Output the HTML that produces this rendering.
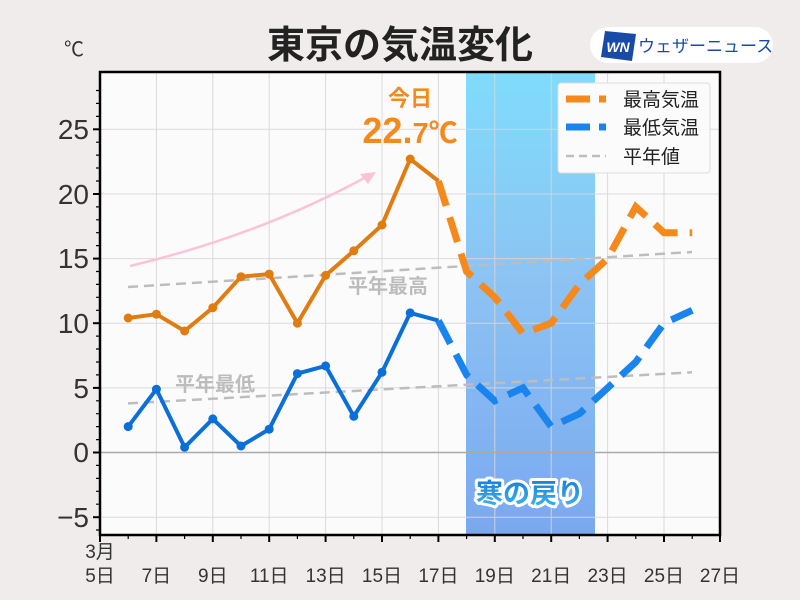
<!DOCTYPE html>
<html><head><meta charset="utf-8"><style>
body{margin:0;background:#efeceb;}
svg{display:block;font-family:"Liberation Sans","Noto Sans CJK JP",sans-serif;}
</style></head><body>
<svg width="800" height="600" viewBox="0 0 800 600">
<defs>
<linearGradient id="band" x1="0" y1="0" x2="0" y2="1">
<stop offset="0" stop-color="#7fdcfb"/><stop offset="0.45" stop-color="#8cc3f3"/><stop offset="1" stop-color="#7aa8f0"/>
</linearGradient>
<linearGradient id="kt" x1="0" y1="0" x2="0" y2="1">
<stop offset="0" stop-color="#1a7fd6"/><stop offset="1" stop-color="#3fb6ef"/>
</linearGradient>
</defs>
<rect width="800" height="600" fill="#efeceb"/>
<rect x="100" y="72" width="620" height="463" fill="#fcfbfc"/>
<rect x="466" y="72" width="129" height="463" fill="url(#band)"/>
<g stroke="#d8d6d8" stroke-width="1" opacity="0.9">
<line x1="100" x2="720" y1="129.3" y2="129.3"/><line x1="100" x2="720" y1="194" y2="194"/>
<line x1="100" x2="720" y1="258.6" y2="258.6"/><line x1="100" x2="720" y1="323.2" y2="323.2"/>
<line x1="100" x2="720" y1="387.9" y2="387.9"/><line x1="100" x2="720" y1="517.2" y2="517.2"/>
<line y1="72" y2="535" x1="156.4" x2="156.4"/><line y1="72" y2="535" x1="212.8" x2="212.8"/>
<line y1="72" y2="535" x1="269.2" x2="269.2"/><line y1="72" y2="535" x1="325.6" x2="325.6"/>
<line y1="72" y2="535" x1="382" x2="382"/><line y1="72" y2="535" x1="438.4" x2="438.4"/>
<line y1="72" y2="535" x1="494.8" x2="494.8"/><line y1="72" y2="535" x1="551.2" x2="551.2"/>
<line y1="72" y2="535" x1="607.6" x2="607.6"/><line y1="72" y2="535" x1="664" x2="664"/>
</g>
<line x1="100" x2="720" y1="452.5" y2="452.5" stroke="#aaa" stroke-width="1.5"/>
<line x1="128" y1="287" x2="692" y2="252" stroke="#bdbdbd" stroke-width="2.5" stroke-dasharray="10,6"/>
<line x1="128" y1="403.4" x2="692" y2="372.3" stroke="#bdbdbd" stroke-width="2.5" stroke-dasharray="10,6"/>
<text x="388" y="293" font-size="20" font-weight="bold" fill="#bcbcbc" text-anchor="middle">平年最高</text>
<text x="215" y="391" font-size="20" font-weight="bold" fill="#bcbcbc" text-anchor="middle">平年最低</text>
<path d="M130,266 Q260,235 368,176" fill="none" stroke="#fcc2d6" stroke-width="2.5"/>
<path d="M376,172 L360,174 L368,184 Z" fill="#fcc2d6"/>
<polyline fill="none" stroke="#e07c10" stroke-width="4" stroke-linejoin="round" points="128.2,318 156.4,314.2 184.6,331 212.8,307.7 241,276.7 269.2,274.1 297.4,323.2 325.6,275.4 353.8,250.8 382,225 410.2,159 438.4,181"/>
<g fill="#e07c10"><circle cx="128.2" cy="318" r="4.5"/><circle cx="156.4" cy="314.2" r="4.5"/><circle cx="184.6" cy="331" r="4.5"/><circle cx="212.8" cy="307.7" r="4.5"/><circle cx="241" cy="276.7" r="4.5"/><circle cx="269.2" cy="274.1" r="4.5"/><circle cx="297.4" cy="323.2" r="4.5"/><circle cx="325.6" cy="275.4" r="4.5"/><circle cx="353.8" cy="250.8" r="4.5"/><circle cx="382" cy="225" r="4.5"/><circle cx="410.2" cy="159" r="4.5"/></g>
<polyline fill="none" stroke="#f5891c" stroke-width="7" stroke-dasharray="26,12" points="438.4,181 466.6,271.5 494.8,297.3 523,333.5 551.2,323.2 579.4,284.4 607.6,258.6 635.8,206.8 664,232.7 692.2,232.7"/>
<polyline fill="none" stroke="#0a6fd8" stroke-width="4" stroke-linejoin="round" points="128.2,426.6 156.4,389.2 184.6,447.3 212.8,418.9 241,446 269.2,429.2 297.4,373.6 325.6,365.9 353.8,416.3 382,372.3 410.2,312.9 438.4,320.6"/>
<g fill="#0a6fd8"><circle cx="128.2" cy="426.6" r="4.5"/><circle cx="156.4" cy="389.2" r="4.5"/><circle cx="184.6" cy="447.3" r="4.5"/><circle cx="212.8" cy="418.9" r="4.5"/><circle cx="241" cy="446" r="4.5"/><circle cx="269.2" cy="429.2" r="4.5"/><circle cx="297.4" cy="373.6" r="4.5"/><circle cx="325.6" cy="365.9" r="4.5"/><circle cx="353.8" cy="416.3" r="4.5"/><circle cx="382" cy="372.3" r="4.5"/><circle cx="410.2" cy="312.9" r="4.5"/></g>
<polyline fill="none" stroke="#1a84ee" stroke-width="7" stroke-dasharray="26,12" points="438.4,320.6 466.6,374.9 494.8,400.8 523,387.9 551.2,426.6 579.4,413.7 607.6,387.9 635.8,362 664,323.2 692.2,310.3"/>
<text x="410" y="106" font-size="22" font-weight="bold" fill="#f5891c" text-anchor="middle">今日</text>
<text x="410" y="143" font-weight="bold" fill="#f5891c" text-anchor="middle"><tspan font-size="36">22.</tspan><tspan font-size="29">7℃</tspan></text>
<text x="530" y="503" font-size="27" font-weight="bold" text-anchor="middle" fill="url(#kt)" stroke="#fff" stroke-width="6" paint-order="stroke" stroke-linejoin="round">寒の戻り</text>
<rect x="100" y="72" width="620" height="463" fill="none" stroke="#000" stroke-width="2.5"/>
<g stroke="#000" stroke-width="2">
<line x1="93" x2="100" y1="129.3" y2="129.3"/><line x1="93" x2="100" y1="194" y2="194"/><line x1="93" x2="100" y1="258.6" y2="258.6"/><line x1="93" x2="100" y1="323.2" y2="323.2"/><line x1="93" x2="100" y1="387.9" y2="387.9"/><line x1="93" x2="100" y1="452.5" y2="452.5"/><line x1="93" x2="100" y1="517.2" y2="517.2"/>
</g>
<g stroke="#000" stroke-width="1.2">
<path d="M96,90.5h4M96,103.4h4M96,116.4h4M96,142.2h4M96,155.1h4M96,168h4M96,181h4M96,206.9h4M96,219.8h4M96,232.7h4M96,245.6h4M96,271.5h4M96,284.4h4M96,297.3h4M96,310.3h4M96,336.1h4M96,349h4M96,362h4M96,374.9h4M96,400.8h4M96,413.7h4M96,426.6h4M96,439.6h4M96,465.4h4M96,478.4h4M96,491.3h4M96,504.2h4M96,530h4"/>
<path d="M128.2,535v4M184.6,535v4M241,535v4M297.4,535v4M353.8,535v4M410.2,535v4M466.6,535v4M523,535v4M579.4,535v4M635.8,535v4M692.2,535v4"/>
</g>
<g font-size="28" fill="#333" text-anchor="end">
<text x="89" y="139">25</text><text x="89" y="204">20</text><text x="89" y="268">15</text><text x="89" y="333">10</text><text x="89" y="398">5</text><text x="89" y="462">0</text><text x="89" y="527">−5</text>
</g>
<text x="64" y="56" font-size="20" fill="#333">℃</text>
<g stroke="#000" stroke-width="2">
<line x1="100" x2="100" y1="535" y2="542"/><line x1="156.4" x2="156.4" y1="535" y2="542"/><line x1="212.8" x2="212.8" y1="535" y2="542"/><line x1="269.2" x2="269.2" y1="535" y2="542"/><line x1="325.6" x2="325.6" y1="535" y2="542"/><line x1="382" x2="382" y1="535" y2="542"/><line x1="438.4" x2="438.4" y1="535" y2="542"/><line x1="494.8" x2="494.8" y1="535" y2="542"/><line x1="551.2" x2="551.2" y1="535" y2="542"/><line x1="607.6" x2="607.6" y1="535" y2="542"/><line x1="664" x2="664" y1="535" y2="542"/><line x1="720" x2="720" y1="535" y2="542"/>
</g>
<g font-size="19" fill="#333" text-anchor="middle">
<text x="100" y="558">3月</text>
<text x="100" y="582">5日</text><text x="156.4" y="582">7日</text><text x="212.8" y="582">9日</text><text x="269.2" y="582">11日</text><text x="325.6" y="582">13日</text><text x="382" y="582">15日</text><text x="438.4" y="582">17日</text><text x="494.8" y="582">19日</text><text x="551.2" y="582">21日</text><text x="607.6" y="582">23日</text><text x="664" y="582">25日</text><text x="720" y="582">27日</text>
</g>
<text x="400" y="58" font-size="38" font-weight="bold" fill="#222" text-anchor="middle">東京の気温変化</text>
<rect x="590" y="27" width="183" height="36" rx="18" fill="#fff"/>
<polygon points="605,31 636,34 632,61 601,57" fill="#1a4aa8"/>
<text x="618" y="52" font-size="14" font-weight="bold" font-style="italic" fill="#fff" text-anchor="middle">WN</text>
<text x="638" y="52" font-size="17" fill="#1a4aa8">ウェザーニュース</text>
<rect x="558" y="83" width="152" height="90" rx="3" fill="#fcfbfc" stroke="#ddd"/>
<line x1="566" x2="606" y1="99" y2="99" stroke="#f5891c" stroke-width="7" stroke-dasharray="24,9"/>
<line x1="566" x2="606" y1="127" y2="127" stroke="#1a84ee" stroke-width="7" stroke-dasharray="24,9"/>
<line x1="566" x2="606" y1="156" y2="156" stroke="#bdbdbd" stroke-width="2.5" stroke-dasharray="8,5"/>
<g font-size="19" fill="#222"><text x="623" y="106">最高気温</text><text x="623" y="134">最低気温</text><text x="623" y="163">平年値</text></g>
</svg>
</body></html>
